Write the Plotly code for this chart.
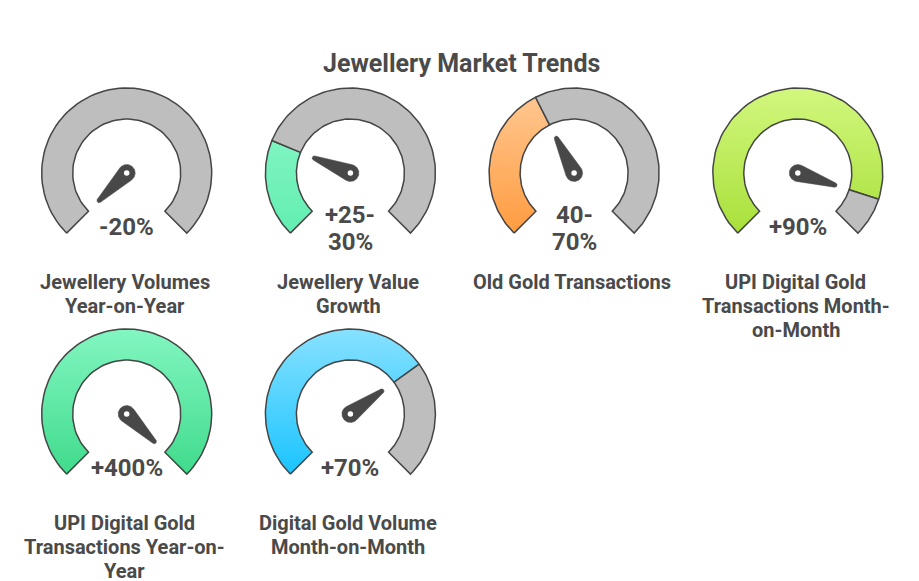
import numpy as np
import plotly.graph_objects as go

# ---------------- data ----------------
title = "Jewellery Market Trends"
categories = [
    "Jewellery Volumes\nYear-on-Year",
    "Jewellery Value\nGrowth",
    "Old Gold Transactions",
    "UPI Digital Gold\nTransactions Month-\non-Month",
    "UPI Digital Gold\nTransactions Year-on-\nYear",
    "Digital Gold Volume\nMonth-on-Month",
]
value_labels = ["-20%", "+25-\n30%", "40-\n70%", "+90%", "+400%", "+70%"]
gauge_fill = [0, 25, 40, 90, 100, 70]      # filled share of the dial (0-100)
needle_pos = [0, 25, 40, 90, 100, 70]      # needle position on the dial (0-100)

# ---------------- style ----------------
fill_light = ["#9DF5D0", "#8EF8CC", "#FFC994", "#D2F77E", "#82F6C1", "#88E1FF"]
fill_dark = ["#6FEAB5", "#62EEB0", "#FF9C40", "#A8E03A", "#40DB8C", "#1AC4FF"]
GRAY = "#BEBEBE"
EDGE = "#454545"
NEEDLE = "#484848"
TEXT = "#4A4A4A"
FONT = "Roboto"

W, H = 919, 581
PAGE_OFF = 8  # browser body margin
R_OUT, R_IN = 85, 54
START, SPAN = 225.0, 270.0
col_x0, col_dx = 126.7, 223.7
row_y = [173.0, 414.0]  # pixel rows (from top)


def py(y):
    return H - y


def ring(cx, cy, a1, a2):
    a = np.radians(np.linspace(a1, a2, 80))
    xo = cx + R_OUT * np.cos(a)
    yo = cy + R_OUT * np.sin(a)
    xi = cx + R_IN * np.cos(a[::-1])
    yi = cy + R_IN * np.sin(a[::-1])
    x = np.concatenate([xo, xi, xo[:1]])
    y = np.concatenate([yo, yi, yo[:1]])
    return x, y


def needle(cx, cy, ang_deg, r1=8.5, r2=2.2, L=39.0):
    th = np.radians(ang_deg)
    phi = np.arccos((r1 - r2) / L)
    a_back = np.linspace(th + phi, th + 2 * np.pi - phi, 60)
    a_tip = np.linspace(th - phi, th + phi, 30)
    tx, ty = cx + L * np.cos(th), cy + L * np.sin(th)
    x = np.concatenate([cx + r1 * np.cos(a_back), tx + r2 * np.cos(a_tip)])
    y = np.concatenate([cy + r1 * np.sin(a_back), ty + r2 * np.sin(a_tip)])
    return np.append(x, x[0]), np.append(y, y[0])


fig = go.Figure()
annotations = []

for i, cat in enumerate(categories):
    row, col = divmod(i, 4)
    cx = col_x0 + col * col_dx
    cy_pix = row_y[row]
    cy = py(cy_pix)
    split = START - SPAN * gauge_fill[i] / 100.0
    end = START - SPAN

    if gauge_fill[i] > 0:
        x, y = ring(cx, cy, START, split)
        fig.add_trace(go.Scatter(
            x=x, y=y, mode="lines", fill="toself",
            line=dict(color=EDGE, width=1.5),
            fillgradient=dict(type="vertical",
                              colorscale=[[0, fill_dark[i]], [1, fill_light[i]]],
                              start=cy - R_OUT * 0.72, stop=cy + R_OUT),
            hoverinfo="skip", showlegend=False))
    if gauge_fill[i] < 100:
        x, y = ring(cx, cy, split, end)
        fig.add_trace(go.Scatter(
            x=x, y=y, mode="lines", fill="toself", fillcolor=GRAY,
            line=dict(color=EDGE, width=1.5),
            hoverinfo="skip", showlegend=False))

    nx, ny = needle(cx, cy, START - SPAN * needle_pos[i] / 100.0)
    fig.add_trace(go.Scatter(
        x=nx, y=ny, mode="lines", fill="toself", fillcolor=NEEDLE,
        line=dict(color=NEEDLE, width=0.5),
        hoverinfo="skip", showlegend=False))
    fig.add_trace(go.Scatter(
        x=[cx], y=[cy], mode="markers",
        marker=dict(color="white", size=5.5, line=dict(width=0)),
        hoverinfo="skip", showlegend=False))

    # value text
    vlines = value_labels[i].split("\n")
    if len(vlines) == 1:
        vys = [cy_pix + 54]
    else:
        vys = [cy_pix + 42 + 27 * k for k in range(len(vlines))]
    for t, vy in zip(vlines, vys):
        annotations.append(dict(
            x=cx, y=py(vy), text=t, showarrow=False,
            xanchor="center", yanchor="middle",
            font=dict(family=FONT, size=24, color=TEXT, weight="bold")))

    # category label
    for k, t in enumerate(cat.split("\n")):
        annotations.append(dict(
            x=cx - 2, y=py(cy_pix + 108.5 + 24 * k), text=t, showarrow=False,
            xanchor="center", yanchor="middle",
            font=dict(family=FONT, size=20, color=TEXT, weight="bold")))

annotations.append(dict(
    x=W / 2 + 2, y=py(63), text=title, showarrow=False,
    xanchor="center", yanchor="middle",
    font=dict(family=FONT, size=25, color=TEXT, weight="bold")))

fig.update_layout(
    width=W, height=H, autosize=False,
    margin=dict(l=0, r=0, t=0, b=0),
    paper_bgcolor="white", plot_bgcolor="white",
    xaxis=dict(range=[PAGE_OFF, W + PAGE_OFF], visible=False, fixedrange=True),
    yaxis=dict(range=[-PAGE_OFF, H - PAGE_OFF], visible=False, fixedrange=True),
    annotations=annotations,
    showlegend=False,
)

fig.write_html("out.html")
